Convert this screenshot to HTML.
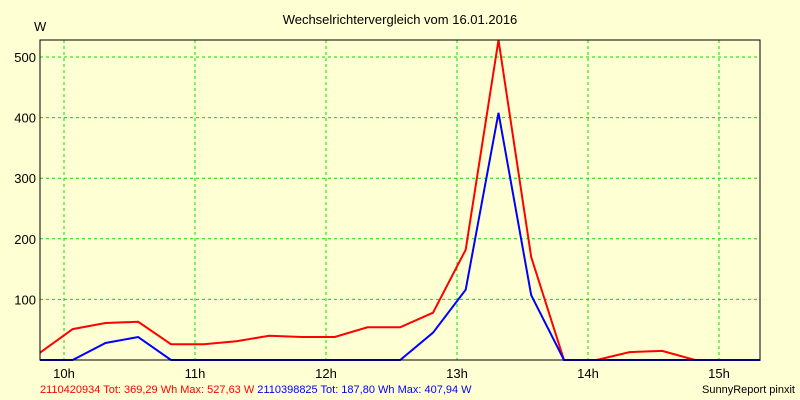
<!DOCTYPE html>
<html><head><meta charset="utf-8"><style>
body{margin:0;background:#ffffd4;}
svg{display:block;font-family:"Liberation Sans",sans-serif;}
</style></head><body>
<svg id="c" width="800" height="400">
<rect width="800" height="400" fill="#ffffd4"/>
<text x="400" y="24" font-size="13" text-anchor="middle">Wechselrichtervergleich vom 16.01.2016</text>
<text x="34" y="31" font-size="13">W</text>
<g id="grid"></g><g id="series"></g>
<rect x="40" y="40" width="720" height="320" fill="none" stroke="#000"/>
<text x="40" y="393" font-size="11"><tspan fill="#f00">2110420934 Tot: 369,29 Wh Max: 527,63 W</tspan><tspan fill="#00f"> 2110398825 Tot: 187,80 Wh Max: 407,94 W</tspan></text>
<text x="795" y="393" font-size="11" text-anchor="end">SunnyReport pinxit</text>
</svg>
<script>
const yTicks=[100,200,300,400,500];
const xTicks=[10,11,12,13,14,15];
const xTickLabels=["10h","11h","12h","13h","14h","15h"];
const startHour=9+49/60;
const stepHour=0.25;
const redValues=[12,51,61,63,26,26,31,40,38,38,54,54,78,182,528,170,0,0,13,15,0,0,0];
const blueValues=[0,0,28,38,0,0,0,0,0,0,0,0,45,116,408,107,0,0,0,0,0,0,0];
const NS="http://www.w3.org/2000/svg";
const xs=h=>64+(h-10)*131;
const ys=v=>360-v*0.606;
const g=document.getElementById('grid'),s=document.getElementById('series'),svg=document.getElementById('c');
function mk(tag,attrs,parent){const e=document.createElementNS(NS,tag);for(const k in attrs)e.setAttribute(k,attrs[k]);parent.appendChild(e);return e;}
yTicks.forEach(v=>{
 const l=mk('line',{x1:40,x2:760,y1:ys(v),y2:ys(v),stroke:'#00e000','stroke-dasharray':'3,3'},g);
 
 
 const t=mk('text',{x:36,y:ys(v)+5,'font-size':13,'text-anchor':'end'},svg);
 t.textContent=v;
 
 
});
xTicks.forEach((h,i)=>{
 const l=mk('line',{x1:xs(h),x2:xs(h),y1:40,y2:360,stroke:'#00e000','stroke-dasharray':'3,3'},g);
 
 
 const t=mk('text',{x:xs(h),y:378,'font-size':13,'text-anchor':'middle'},svg);
 t.textContent=xTickLabels[i];
 
 
});
function line(vals,col,name){
 const p=vals.map((v,i)=>xs(startHour+i*stepHour).toFixed(1)+','+ys(v).toFixed(1)).join(' ');
 const e=mk('polyline',{points:p,fill:'none',stroke:col,'stroke-width':2},s);
 
 
}
line(redValues,'#f00','series-2110420934');
line(blueValues,'#00f','series-2110398825');
</script>
</body></html>
